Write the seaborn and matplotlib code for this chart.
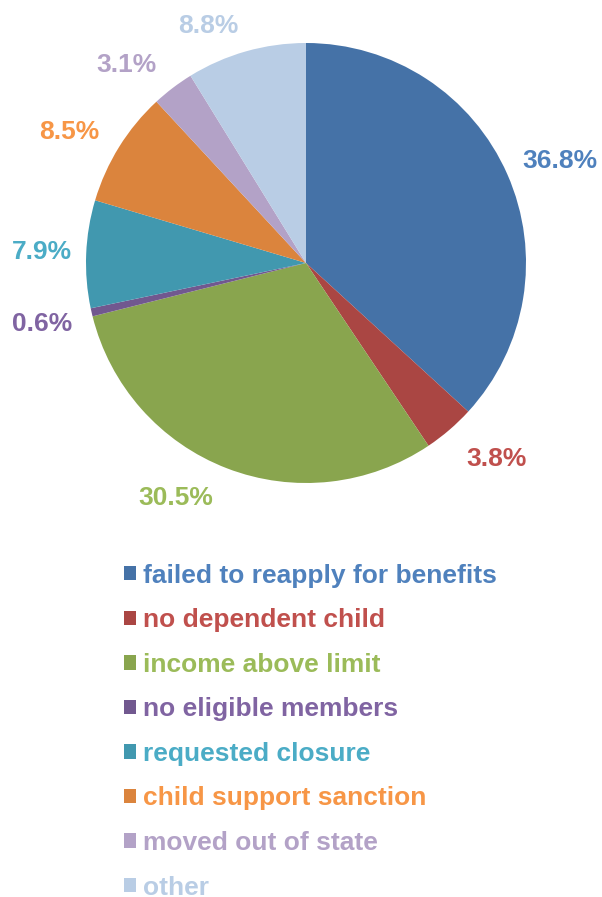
import matplotlib
matplotlib.use("Agg")
import matplotlib.pyplot as plt
import seaborn as sns
import numpy as np

categories = ["failed to reapply for benefits", "no dependent child", "income above limit",
              "no eligible members", "requested closure", "child support sanction",
              "moved out of state", "other"]
values = [36.8, 3.8, 30.5, 0.6, 7.9, 8.5, 3.1, 8.8]
slice_hex = ["#4572A7", "#AA4643", "#89A54E", "#71588F", "#4198AF", "#DB843D", "#B3A2C7", "#B9CDE5"]
text_hex = ["#4F81BD", "#C0504D", "#9BBB59", "#8064A2", "#4BACC6", "#F79646", "#B3A2C7", "#B9CDE5"]
# label layout tweaks (distance factor, angular shift in degrees, clockwise positive)
label_dist = [1.245, 1.245, 1.22, 1.23, 1.2, 1.23, 1.215, 1.165]
label_shift = [2.0, -3.5, 8.0, 0.0, 0.0, -3.0, -5.0, -6.5]

sns.set_style("white")
plt.rcParams["font.family"] = ["Liberation Sans", "DejaVu Sans"]
plt.rcParams["font.weight"] = "bold"

W, H = 602, 897
fig = plt.figure(figsize=(W / 100, H / 100), dpi=100)
ax = fig.add_axes([0, 0, 1, 1])

cx, cy, R = 306, H - 263, 220
colors = sns.color_palette(slice_hex)
wedges, _ = ax.pie(
    values, colors=colors, startangle=90, counterclock=False,
    center=(cx, cy), radius=R, wedgeprops=dict(linewidth=0), frame=True,
)
ax.set_xlim(0, W)
ax.set_ylim(0, H)
ax.set_aspect("equal")
ax.axis("off")

for w, v, c, d, s in zip(wedges, values, text_hex, label_dist, label_shift):
    mid = np.deg2rad((w.theta1 + w.theta2) / 2 - s)
    ax.text(cx + d * R * np.cos(mid), cy + d * R * np.sin(mid), f"{v:.1f}%",
            ha="center", va="center", fontsize=19, fontweight="bold", color=c)

leg = fig.legend(
    wedges, categories, loc="upper left",
    bbox_to_anchor=(113 / W, 1 - 553 / H), frameon=False,
    fontsize=19, handlelength=0.46, handleheight=0.46, handletextpad=0.28,
    labelspacing=0.78, borderaxespad=0,
)
for txt, c in zip(leg.get_texts(), text_hex):
    txt.set_color(c)
    txt.set_fontweight("bold")

fig.savefig("out.png", dpi=100)
